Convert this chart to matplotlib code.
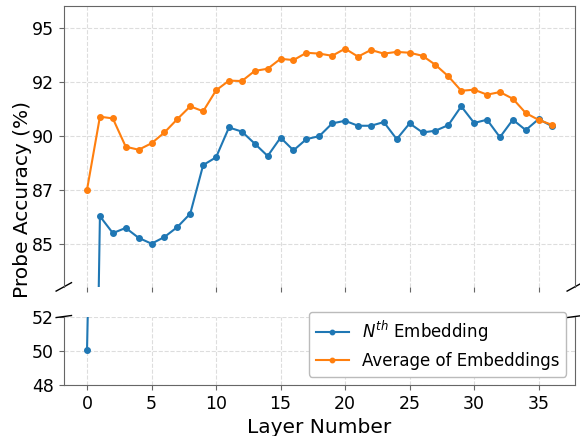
import numpy as np
import matplotlib
matplotlib.use("Agg")
import matplotlib.pyplot as plt
from matplotlib.ticker import FuncFormatter

# data
layers = list(range(37))
nth_emb = [50.06, 86.27, 85.49, 85.73, 85.27, 85.00, 85.31, 85.77, 86.39, 88.64,
           89.00, 90.38, 90.19, 89.63, 89.06, 89.91, 89.32, 89.84, 89.98, 90.57,
           90.69, 90.46, 90.46, 90.63, 89.84, 90.57, 90.15, 90.23, 90.49, 91.36,
           90.59, 90.74, 89.93, 90.74, 90.26, 90.77, 90.45]
avg_emb = [87.50, 90.88, 90.80, 89.49, 89.35, 89.65, 90.15, 90.77, 91.36, 91.13,
           92.10, 92.55, 92.53, 93.00, 93.10, 93.56, 93.50, 93.84, 93.80, 93.70,
           94.03, 93.66, 93.97, 93.80, 93.88, 93.84, 93.70, 93.28, 92.75, 92.08,
           92.13, 91.90, 92.02, 91.71, 91.05, 90.73, 90.51]
top_ticks = [85, 87.5, 90, 92.5, 95]
bottom_ticks = [48, 50, 52]

fig = plt.figure(figsize=(5.8, 4.36), dpi=100)
ax1 = fig.add_axes([0.110, 0.342, 0.881, 0.644])
ax2 = fig.add_axes([0.110, 0.117, 0.881, 0.157], sharex=ax1)
ax2.set_zorder(3)

for ax in (ax1, ax2):
    ax.plot(layers, nth_emb, '-o', color='#1f77b4', lw=1.5, ms=4, label=r'$N^{th}$ Embedding')
    ax.plot(layers, avg_emb, '-o', color='#ff7f0e', lw=1.5, ms=4, label='Average of Embeddings')
    ax.grid(True, linestyle='--', color='#dddddd', linewidth=0.8)
    ax.set_axisbelow(True)
    for s in ax.spines.values():
        s.set_color('#666666')
    ax.tick_params(colors='#666666', labelcolor='black', labelsize=12.5)

ax1.set_ylim(83, 96)
ax2.set_ylim(48, 52)
ax1.set_yticks(top_ticks)
ax2.set_yticks(bottom_ticks)
ax1.yaxis.set_major_formatter(FuncFormatter(lambda v, p: str(int(v))))
ax1.spines['bottom'].set_visible(False)
ax2.spines['top'].set_visible(False)
ax1.tick_params(labelbottom=False)
ax2.set_xticks([0, 5, 10, 15, 20, 25, 30, 35])

# break marks
d = .015
kw = dict(transform=ax1.transAxes, color='k', clip_on=False, lw=1)
ax1.plot((-d, +d), (-d, +d), **kw)
ax1.plot((1 - d, 1 + d), (-d, +d), **kw)
kw.update(transform=ax2.transAxes)
ax2.plot((-d, +d), (1 - d, 1 + d), **kw)
ax2.plot((1 - d, 1 + d), (1 - d, 1 + d), **kw)

ax2.set_xlabel('Layer Number', fontsize=14.5)
fig.text(0.038, 0.543, 'Probe Accuracy (%)', rotation=90, ha='center', va='center', fontsize=14.5)

ax2.legend(loc='lower right', fontsize=12, numpoints=1, markerscale=0.8,
           edgecolor='#bbbbbb', framealpha=1)

fig.savefig('out.png', dpi=100)
